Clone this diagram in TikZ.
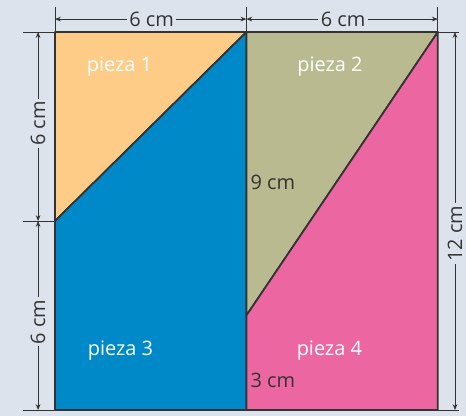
\documentclass[tikz,border=0pt]{standalone}
\usepackage{fontspec}
\setmainfont{Open Sans}
\usetikzlibrary{arrows.meta}
\definecolor{fondo}{HTML}{DDE3EC}
\definecolor{naranja}{HTML}{FFCC88}
\definecolor{azul}{HTML}{0089C9}
\definecolor{oliva}{HTML}{B9BA8F}
\definecolor{rosa}{HTML}{EC67A2}
\definecolor{linea}{HTML}{333333}

\tikzset{
  pieza/.style={draw=linea, line width=1.5pt, line join=round},
  cota/.style={linea, line width=0.7pt, {Stealth[length=5pt,width=4pt]}-{Stealth[length=5pt,width=4pt]}},
  guia/.style={linea, line width=0.7pt},
  etiqueta/.style={white, font=\fontsize{17}{19}\selectfont},
  medida/.style={linea, font=\fontsize{17}{19}\selectfont, fill=fondo, inner sep=2pt},
}

\begin{document}
\begin{tikzpicture}[x=0.957cm, y=0.945cm]
                    %fondo
                    \fill[fondo] (-1.724,-0.19) rectangle (12.884,13.016);
                    \useasboundingbox (-1.724,-0.19) rectangle (12.884,13.016);

                    %vertices
                    \coordinate (A) at (0,0);
                    \coordinate (B) at (6,0);
                    \coordinate (C) at (12,0);
                    \coordinate (D) at (12,12);
                    \coordinate (E) at (6,12);
                    \coordinate (F) at (0,12);
                    \coordinate (M) at (0,6);
                    \coordinate (N) at (6,3);

                    %piezas
                    \filldraw[pieza, fill=naranja] (F) -- (E) -- (M) -- cycle;
                    \filldraw[pieza, fill=azul] (M) -- (E) -- (B) -- (A) -- cycle;
                    \filldraw[pieza, fill=oliva] (E) -- (D) -- (N) -- cycle;
                    \filldraw[pieza, fill=rosa] (D) -- (C) -- (B) -- (N) -- cycle;

                    \node[etiqueta] (p1) at (2.02,10.9) {pieza 1};
                    \node[etiqueta] (p2) at (8.62,10.9) {pieza 2};
                    \node[etiqueta] (p3) at (2.05,1.9) {pieza 3};
                    \node[etiqueta] (p4) at (8.6,1.9) {pieza 4};
                    \node[linea, font=\fontsize{17}{19}\selectfont, anchor=west] (m9) at (6.0,7.24) {9 cm};
                    \node[linea, font=\fontsize{17}{19}\selectfont, anchor=west] (m3) at (6.0,0.95) {3 cm};

                    %lineas guia
                    \draw[guia] (-1,12) -- (12.66,12);
                    \draw[guia] (-1,0) -- (12.66,0);
                    \draw[guia] (-1,6) -- (M);
                    \draw[guia] (F) -- (0,12.79);
                    \draw[guia] (E) -- (6,12.79);
                    \draw[guia] (D) -- (12,12.79);

                    %cotas
                    \draw[cota] (0,12.41) -- (6,12.41);
                    \draw[cota] (6,12.41) -- (12,12.41);
                    \draw[cota] (-0.53,12) -- (-0.53,6);
                    \draw[cota] (-0.53,6) -- (-0.53,0);
                    \draw[cota] (12.54,12) -- (12.54,0);

                    \node[medida] (c1) at (3.03,12.41) {6 cm};
                    \node[medida] (c2) at (9.03,12.41) {6 cm};
                    \node[medida, rotate=90] (c3) at (-0.53,9.1) {6 cm};
                    \node[medida, rotate=90] (c4) at (-0.53,2.8) {6 cm};
                    \node[medida, rotate=90] (c5) at (12.54,5.6) {12 cm};

\end{tikzpicture}
\end{document}
